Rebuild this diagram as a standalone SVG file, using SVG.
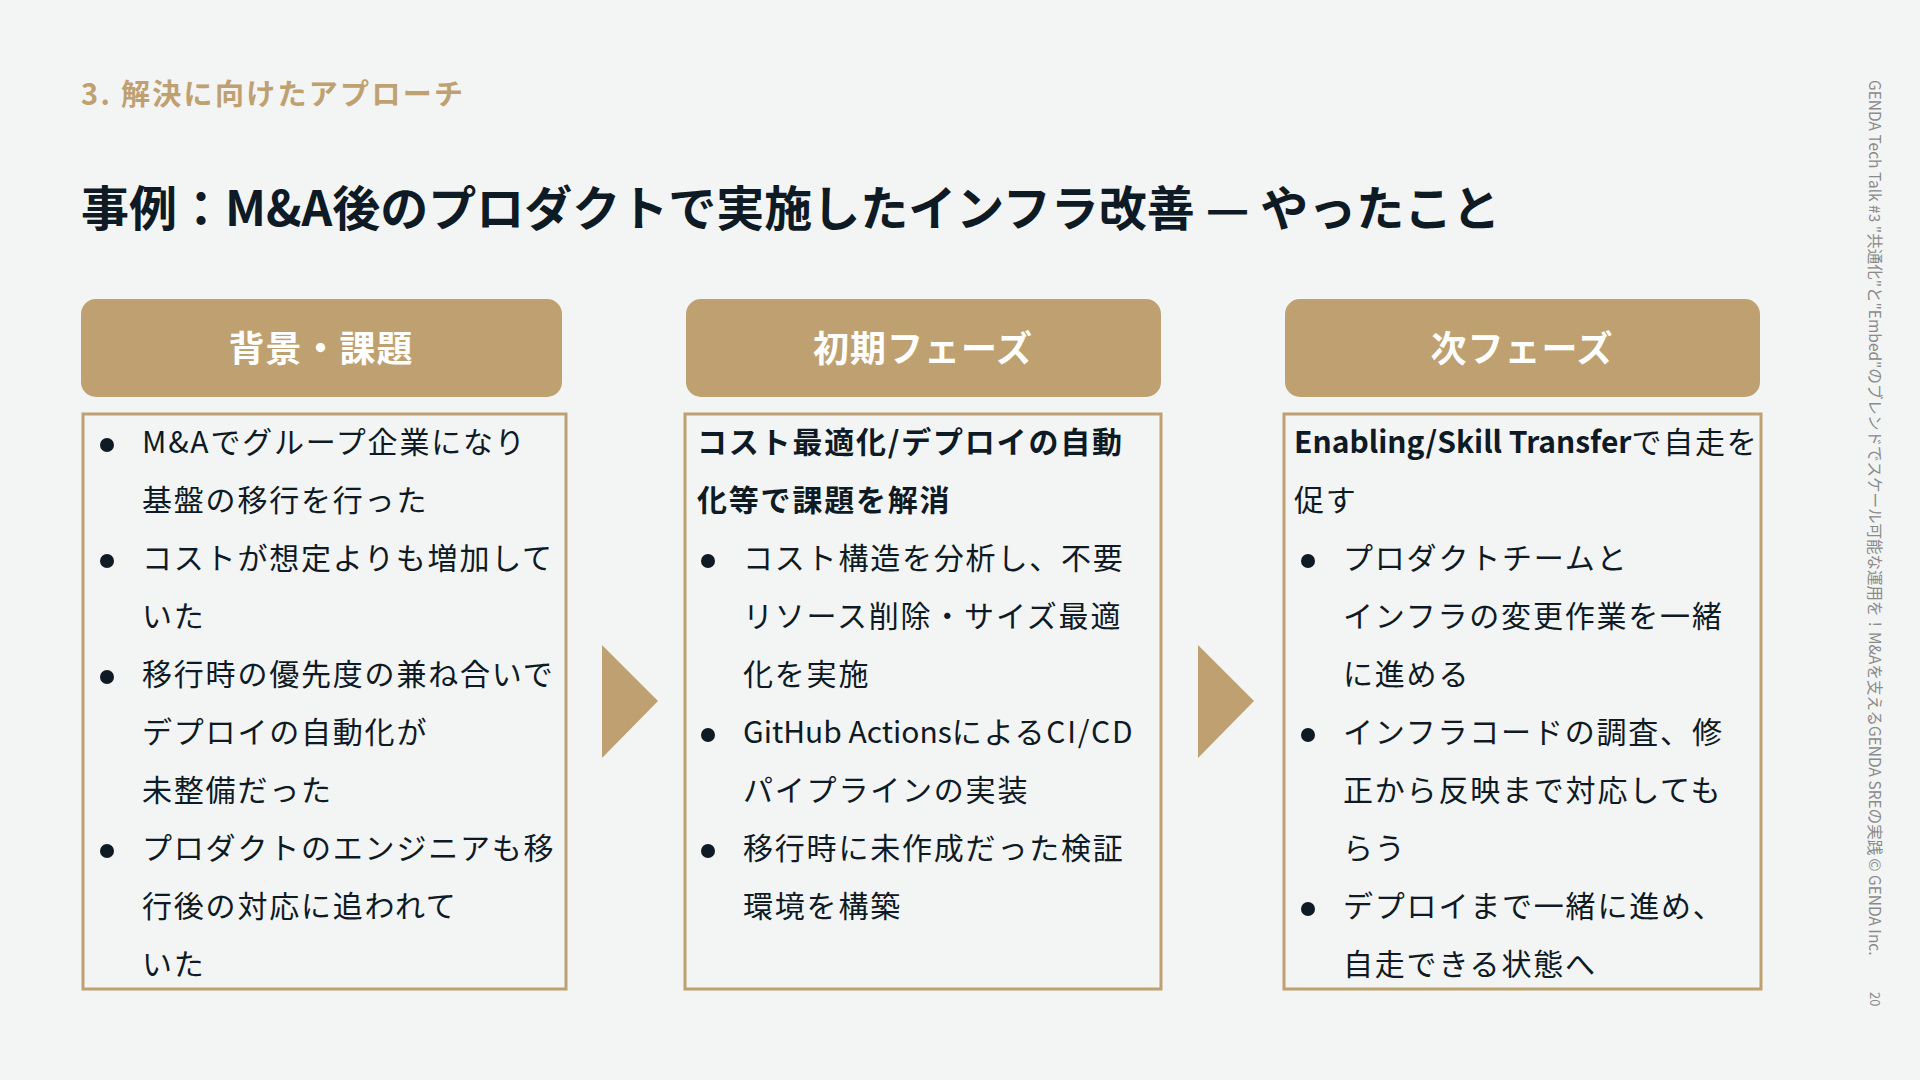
<svg xmlns="http://www.w3.org/2000/svg" width="1920" height="1080" viewBox="0 0 1920 1080">
<style>
  .bg { fill: #F3F4F4; }
  .hdr { fill: #BFA171; }
  .box { fill: #F3F4F4; stroke: #BFA171; stroke-width: 3; }
  .arrow { fill: #BFA171; }
  text { font-family: "Noto Sans CJK JP", "Noto Sans", sans-serif; }
  .sub { font-size: 29px; font-weight: 700; fill: #BFA171; letter-spacing: 2.3px; }
  .title { font-size: 48px; font-weight: 700; fill: #0E1A24; }
  .htxt { font-size: 36px; font-weight: 700; fill: #FFFFFF; text-anchor: middle; letter-spacing: 1px; }
  .body { font-size: 30px; font-weight: 400; fill: #0E1A24; letter-spacing: 1.8px; }
  .bold { font-weight: 700; }
  .lat { letter-spacing: 0px; }
  .dot { fill: #0E1A24; }
  .side { font-size: 15.5px; fill: #8A8A8A; }
</style>
<rect class="bg" x="0" y="0" width="1920" height="1080"/>

<text class="sub" x="81" y="105">3. 解決に向けたアプローチ</text>
<text class="title" x="81" y="226">事例：M&amp;A後のプロダクトで実施したインフラ改善 — やったこと</text>

<g id="col1">
  <rect class="hdr" x="81" y="299" width="481" height="98" rx="15"/>
  <text class="htxt" x="321" y="362">背景・課題</text>
  <rect class="box" x="83" y="414" width="483" height="575"/>
  <circle class="dot" cx="107" cy="445" r="7"/>
  <circle class="dot" cx="107" cy="561" r="7"/>
  <circle class="dot" cx="107" cy="677" r="7"/>
  <circle class="dot" cx="107" cy="851" r="7"/>
  <text class="body" x="142" y="453">M&amp;Aでグループ企業になり</text>
  <text class="body" x="142" y="511">基盤の移行を行った</text>
  <text class="body" x="142" y="569">コストが想定よりも増加して</text>
  <text class="body" x="142" y="627">いた</text>
  <text class="body" x="142" y="685">移行時の優先度の兼ね合いで</text>
  <text class="body" x="142" y="743">デプロイの自動化が</text>
  <text class="body" x="142" y="801">未整備だった</text>
  <text class="body" x="142" y="859">プロダクトのエンジニアも移</text>
  <text class="body" x="142" y="917">行後の対応に追われて</text>
  <text class="body" x="142" y="975">いた</text>
</g>

<g id="col2">
  <rect class="hdr" x="686" y="299" width="475" height="98" rx="15"/>
  <text class="htxt" x="923" y="362">初期フェーズ</text>
  <rect class="box" x="685" y="414" width="476" height="575"/>
  <text class="body bold" x="697" y="453">コスト最適化/デプロイの自動</text>
  <text class="body bold" x="697" y="511">化等で課題を解消</text>
  <circle class="dot" cx="708" cy="561" r="7"/>
  <circle class="dot" cx="708" cy="735" r="7"/>
  <circle class="dot" cx="708" cy="851" r="7"/>
  <text class="body" x="743" y="569">コスト構造を分析し、不要</text>
  <text class="body" x="743" y="627">リソース削除・サイズ最適</text>
  <text class="body" x="743" y="685">化を実施</text>
  <text class="body" x="743" y="743"><tspan class="lat">GitHub Actions</tspan>によるCI/CD</text>
  <text class="body" x="743" y="801">パイプラインの実装</text>
  <text class="body" x="743" y="859">移行時に未作成だった検証</text>
  <text class="body" x="743" y="917">環境を構築</text>
</g>

<g id="col3">
  <rect class="hdr" x="1285" y="299" width="475" height="98" rx="15"/>
  <text class="htxt" x="1522" y="362">次フェーズ</text>
  <rect class="box" x="1284" y="414" width="477" height="575"/>
  <text class="body" x="1294" y="453"><tspan class="bold lat">Enabling/Skill Transfer</tspan>で自走を</text>
  <text class="body" x="1294" y="511">促す</text>
  <circle class="dot" cx="1308" cy="561" r="7"/>
  <circle class="dot" cx="1308" cy="735" r="7"/>
  <circle class="dot" cx="1308" cy="909" r="7"/>
  <text class="body" x="1343" y="569">プロダクトチームと</text>
  <text class="body" x="1343" y="627">インフラの変更作業を一緒</text>
  <text class="body" x="1343" y="685">に進める</text>
  <text class="body" x="1343" y="743">インフラコードの調査、修</text>
  <text class="body" x="1343" y="801">正から反映まで対応しても</text>
  <text class="body" x="1343" y="859">らう</text>
  <text class="body" x="1343" y="917">デプロイまで一緒に進め、</text>
  <text class="body" x="1343" y="975">自走できる状態へ</text>
</g>

<g id="connectors">
  <polygon class="arrow" points="602,645 658,701 602,758"/>
  <polygon class="arrow" points="1198,645 1254,701 1198,758"/>
</g>

<g id="sidebar">
  <text class="side" transform="translate(1869,80) rotate(90)">GENDA Tech Talk #3  "共通化"と"Embed"のブレンドでスケール可能な運用を！M&amp;Aを支えるGENDA SREの実践  © GENDA Inc.</text>
  <text class="side" style="font-size:13px" transform="translate(1870,992) rotate(90)">20</text>
</g>
</svg>
